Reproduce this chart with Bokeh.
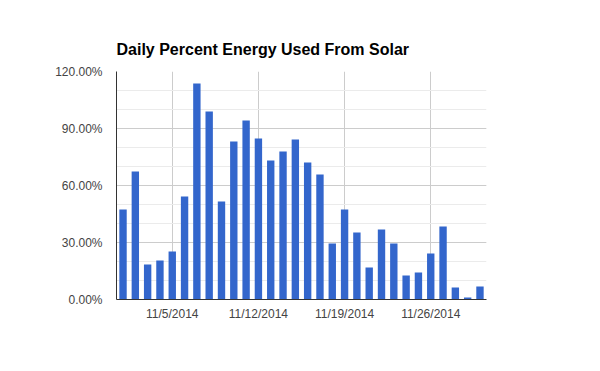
from bokeh.plotting import figure
from bokeh.models import Range1d, FixedTicker, SingleIntervalTicker, NumeralTickFormatter, ColumnDataSource
from bokeh.embed import file_html
from bokeh.resources import INLINE

# Data
days = list(range(1, 31))  # November 2014, day of month
solar_pct = [0.474, 0.674, 0.184, 0.205, 0.253, 0.542, 1.137, 0.989, 0.516, 0.832,
             0.942, 0.847, 0.732, 0.779, 0.842, 0.721, 0.658, 0.295, 0.474, 0.353,
             0.168, 0.368, 0.295, 0.126, 0.142, 0.242, 0.384, 0.063, 0.011, 0.068]
tick_days = [5, 12, 19, 26]
tick_labels = ["11/5/2014", "11/12/2014", "11/19/2014", "11/26/2014"]
title_text = "Daily Percent Energy Used From Solar"

src = ColumnDataSource(dict(day=days, pct=solar_pct))

p = figure(width=584, height=355, output_backend="svg", toolbar_location=None,
           x_range=Range1d(0.47, 30.53), y_range=Range1d(0, 1.2),
           min_border_left=116, min_border_right=98, min_border_top=71, min_border_bottom=56)
p.outline_line_color = None
p.background_fill_color = "white"
p.border_fill_color = "white"

p.title.text = title_text
p.title.text_font = "Liberation Sans"
p.title.text_font_size = "16px"
p.title.text_font_style = "bold"
p.title.text_color = "#000000"
p.title.align = "left"
p.title.standoff = 28

p.vbar(x="day", top="pct", width=0.6, source=src, fill_color="#3366cc", line_color=None)

# Axes
p.xaxis.ticker = FixedTicker(ticks=tick_days)
p.xaxis.major_label_overrides = {d: l for d, l in zip(tick_days, tick_labels)}
p.yaxis.ticker = SingleIntervalTicker(interval=0.3, num_minor_ticks=3)
p.yaxis.formatter = NumeralTickFormatter(format="0.00%")
for ax in (p.xaxis[0], p.yaxis[0]):
    ax.axis_line_color = "#333333"
    ax.axis_line_width = 1
    ax.major_tick_line_color = None
    ax.minor_tick_line_color = None
    ax.major_tick_out = 0
    ax.major_tick_in = 0
    ax.minor_tick_out = 0
    ax.minor_tick_in = 0
    ax.major_label_text_font = "Liberation Sans"
    ax.major_label_text_font_size = "12px"
    ax.major_label_text_color = "#444444"
p.yaxis.major_label_standoff = 14
p.xaxis.major_label_standoff = 7

# Grids
p.xgrid.ticker = FixedTicker(ticks=tick_days)
p.xgrid.grid_line_color = "#cccccc"
p.ygrid.ticker = SingleIntervalTicker(interval=0.3, num_minor_ticks=3)
p.ygrid.grid_line_color = "#cccccc"
p.ygrid.minor_grid_line_color = "#ebebeb"

open("out.html", "w").write(file_html(p, INLINE))
